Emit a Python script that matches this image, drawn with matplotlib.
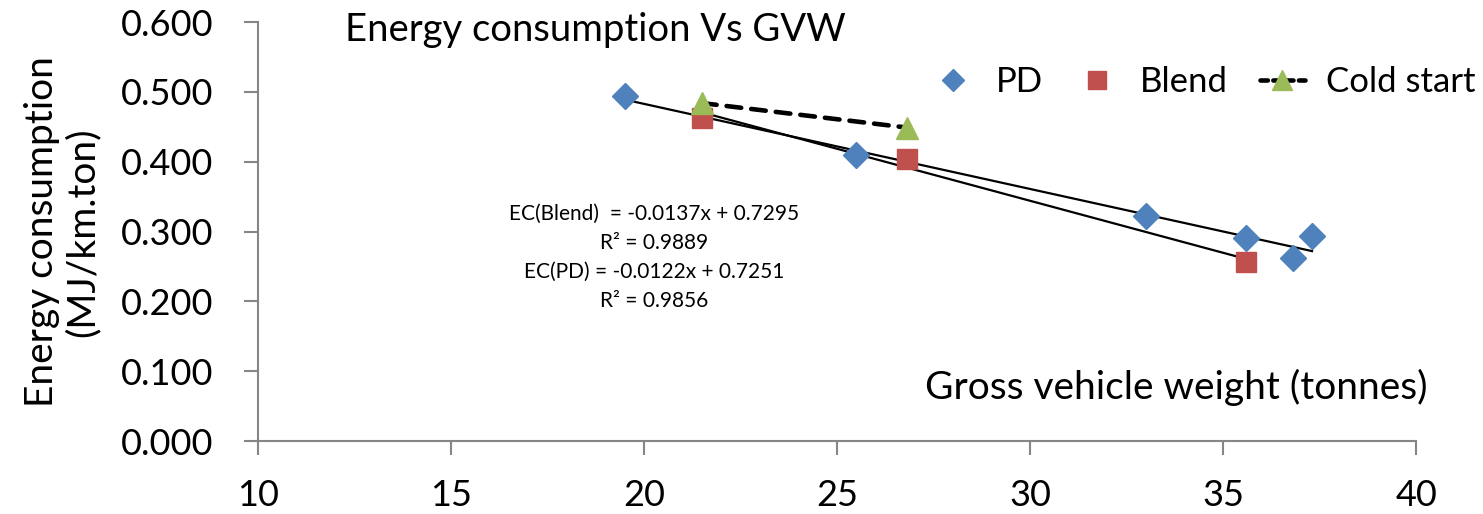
import numpy as np
import matplotlib.pyplot as plt
from matplotlib.lines import Line2D

plt.rcParams['font.family'] = ['Lato', 'DejaVu Sans']

# PD (plain diesel)
pd_x = [19.5, 25.5, 33.0, 35.6, 36.8, 37.3]
pd_y = [0.494, 0.410, 0.322, 0.291, 0.262, 0.293]
# Blend
blend_x = [21.5, 26.8, 35.6]
blend_y = [0.463, 0.404, 0.256]
# Cold start
cold_x = [21.5, 26.8]
cold_y = [0.484, 0.449]

xticks = [10, 15, 20, 25, 30, 35, 40]
yticks = [0.0, 0.1, 0.2, 0.3, 0.4, 0.5, 0.6]

eq_text = ("EC(Blend)  = -0.0137x + 0.7295\nR² = 0.9889\n"
           "EC(PD) = -0.0122x + 0.7251\nR² = 0.9856")

c_pd, c_bl, c_cs = '#4F81BD', '#C0504D', '#9BBB59'
grey = '#868686'
dash = (0, (3.2, 2.2))

fig = plt.figure(figsize=(14.83, 5.14), dpi=100)
ax = fig.add_axes([0.174, 0.142, 0.781, 0.815])

# trendlines (linear fits)
for xs, ys in [(pd_x, pd_y), (blend_x, blend_y)]:
    k, b = np.polyfit(xs, ys, 1)
    xx = np.array([min(xs), max(xs)])
    ax.plot(xx, k * xx + b, color='black', lw=1.6, zorder=2)

ax.plot(cold_x, cold_y, color='black', lw=3.3, ls=dash,
        dash_capstyle='round', zorder=3)
ax.plot(pd_x, pd_y, 'D', color=c_pd, ms=13, ls='none', zorder=4)
ax.plot(blend_x, blend_y, 's', color=c_bl, ms=15, ls='none', zorder=4)
ax.plot(cold_x, cold_y, '^', color=c_cs, ms=16, ls='none', zorder=5)

ax.set_xlim(10, 40)
ax.set_ylim(0, 0.6)
ax.set_xticks(xticks)
ax.set_yticks(yticks)
ax.set_yticklabels([f"{v:.3f}" for v in yticks])

for s in ['top', 'right']:
    ax.spines[s].set_visible(False)
for s in ['left', 'bottom']:
    ax.spines[s].set_color(grey)
    ax.spines[s].set_linewidth(1.5)
ax.tick_params(direction='out', length=10, width=1.5, color=grey, labelsize=26)
ax.tick_params(axis='x', pad=17)
ax.tick_params(axis='y', pad=22)

ax.text(0.342, 0.565, eq_text, transform=ax.transAxes, ha='center', va='top',
        fontsize=15, linespacing=1.55, multialignment='center')

ax.text(0.576, 0.128, "Gross vehicle weight (tonnes)", transform=ax.transAxes,
        ha='left', va='center', fontsize=28)

fig.text(345 / 1483, 1 - 30 / 514, "Energy consumption Vs GVW",
         ha='left', va='center', fontsize=27.5)
fig.text(0.042, 1 - 232 / 514, "Energy consumption\n(MJ/km.ton)", rotation=90,
         ha='center', va='center', fontsize=28, linespacing=1.15)

handles = [
    Line2D([], [], marker='D', color=c_pd, ms=11, ls='none'),
    Line2D([], [], marker='s', color=c_bl, ms=13, ls='none'),
    Line2D([], [], marker='^', ms=14, mfc=c_cs, mec=c_cs, color='black',
           lw=3.3, ls=(0, (1.6, 1.2)), dash_capstyle='round'),
]
fig.legend(handles, ['PD', 'Blend', 'Cold start'], loc='center right',
           bbox_to_anchor=(1475 / 1483, 1 - 82 / 514), ncol=3, frameon=False,
           fontsize=25, handlelength=1.3, columnspacing=0.9, handletextpad=0.6,
           borderpad=0, borderaxespad=0)

fig.savefig('out.png', dpi=100)
